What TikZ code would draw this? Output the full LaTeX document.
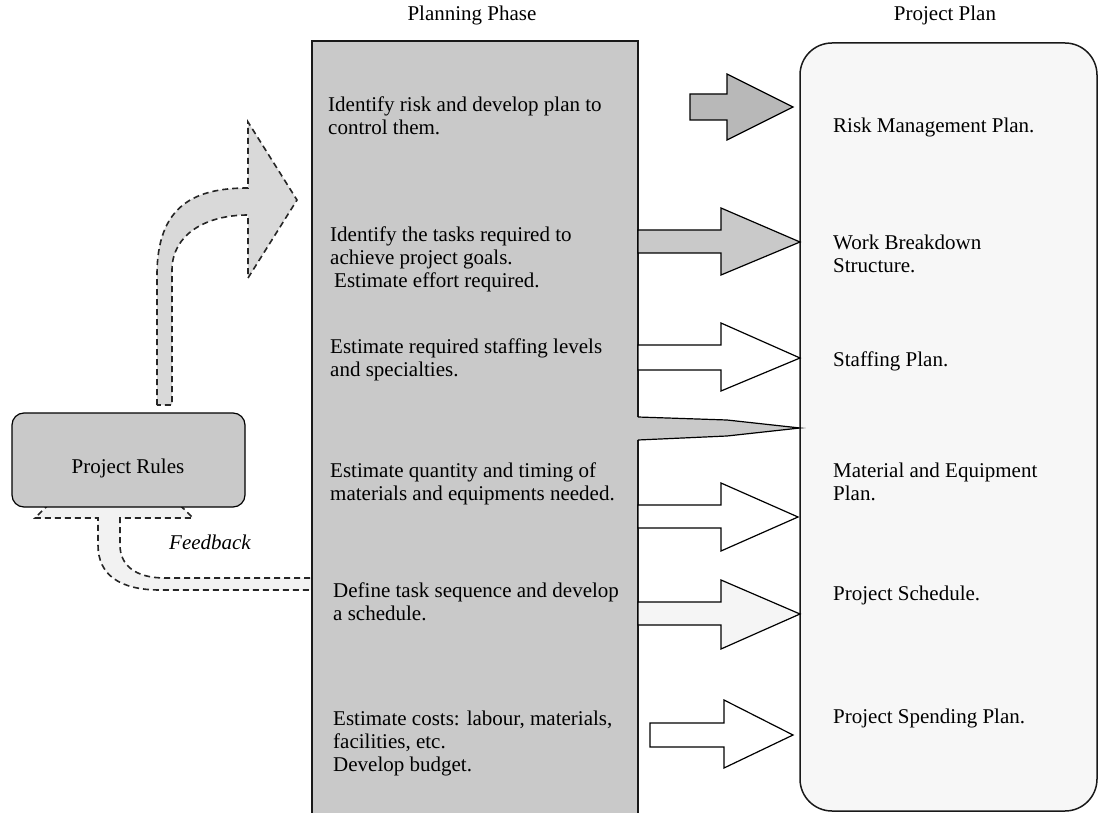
\documentclass[tikz,border=0pt]{standalone}
\usepackage{fontspec}
\setmainfont{Liberation Serif}
\newcommand\ppara[1]{\begin{tabular}[t]{@{}l@{}}#1\end{tabular}}
\begin{document}
\begin{tikzpicture}[x=1pt,y=-1pt,
  txt/.style={font=\fontsize{21}{23}\selectfont, inner sep=0pt},
  para/.style={txt, anchor=base west},
  panel/.style={draw=black!90, line width=1.5pt},
  blockarrow/.style={draw=black, line width=1.2pt, line join=miter},
  halftone/.style={fill=black!21},
  dasharrow/.style={draw=black!85, line width=1.6pt, dash pattern=on 6pt off 4pt},
]
\useasboundingbox (0,0) rectangle (1098,813);
\clip (0,0) rectangle (1098,813);
\fill[white] (0,0) rectangle (1098,813);

% output column
\draw[panel, fill=black!3, rounded corners=32pt] (800,43) rectangle (1097,811);

% feedback loop back to the rules (head hidden under the rules box)
\draw[dasharrow, fill=black!5]
  (330,578) -- (165,578) .. controls (135,578) and (120,565) .. (120,545)
  -- (120,518) -- (193,518) -- (114,440) -- (35,518) -- (98,518)
  -- (98,545) .. controls (98,575) and (120,590) .. (160,590) -- (330,590) -- cycle;

% bent arrow from the rules into the planning phase
\draw[dasharrow, fill=black!15]
  (157,405) -- (157,275) .. controls (157,205) and (195,188) .. (248,188)
  -- (248,122) -- (297,200) -- (248,278) -- (248,215)
  .. controls (205,215) and (172,235) .. (172,270) -- (172,405) -- cycle;

% planning phase column
\draw[panel, halftone] (312,41) rectangle (638,840);

% outputs of the planning phase
\draw[blockarrow, fill=black!28]
  (690,94) -- (727,94) -- (727,74) -- (793,107) -- (727,140) -- (727,120) -- (690,120) -- cycle;
\draw[blockarrow, halftone]
  (638,230) -- (721,230) -- (721,208) -- (800,242) -- (721,275) -- (721,253) -- (638,253) -- cycle;
\draw[blockarrow, fill=white]
  (638,345) -- (721,345) -- (721,323) -- (800,358) -- (721,391) -- (721,370) -- (638,370) -- cycle;
\fill[black!21] (636,417) -- (727,420) -- (800,428) -- (727,436) -- (636,440) -- cycle;
\draw[blockarrow] (638,417) -- (727,420) -- (800,428) -- (727,436) -- (638,440);
\draw[blockarrow, fill=white]
  (638,505) -- (721,505) -- (721,483) -- (798,517) -- (721,551) -- (721,528) -- (638,528) -- cycle;
\draw[blockarrow, fill=black!4]
  (638,602) -- (721,602) -- (721,580) -- (800,614) -- (721,649) -- (721,625) -- (638,625) -- cycle;
\draw[blockarrow, fill=white]
  (650,723) -- (724,723) -- (724,700) -- (793,735) -- (724,768) -- (724,747) -- (650,747) -- cycle;

% rules box
\draw[draw=black, line width=1.2pt, fill=black!21, rounded corners=12pt] (12,413) rectangle (245,507);
\node[txt, anchor=base] (rules) at (128,473) {Project Rules};
\node[txt, anchor=base] (fb) at (210,549) {\itshape Feedback};

% headings
\node[txt, anchor=base] (phase) at (472,21) {Planning Phase};
\node[txt, anchor=base] (plan) at (945,21) {Project Plan};

% planning activities
\node[para] (a1) at (328,112) {\ppara{Identify risk and develop plan to\\control them.}};
\node[para] (a2) at (330,242) {\ppara{Identify the tasks required to\\achieve project goals.\\\hspace*{4pt}Estimate effort required.}};
\node[para] (a3) at (330,353) {\ppara{Estimate required staffing levels\\and specialties.}};
\node[para] (a4) at (330,477) {\ppara{Estimate quantity and timing of\\materials and equipments needed.}};
\node[para] (a5) at (333,597) {\ppara{Define task sequence and develop\\a schedule.}};
\node[para] (a6) at (333,725) {\ppara{Estimate costs: labour, materials,\\facilities, etc.\\Develop budget.}};

% plan documents
\node[para] (d1) at (833,133) {Risk Management Plan.};
\node[para] (d2) at (833,250) {\ppara{Work Breakdown\\Structure.}};
\node[para] (d3) at (833,366) {Staffing Plan.};
\node[para] (d4) at (833,477) {\ppara{Material and Equipment\\Plan.}};
\node[para] (d5) at (833,600) {Project Schedule.};
\node[para] (d6) at (833,723) {Project Spending Plan.};
\end{tikzpicture}
\end{document}
